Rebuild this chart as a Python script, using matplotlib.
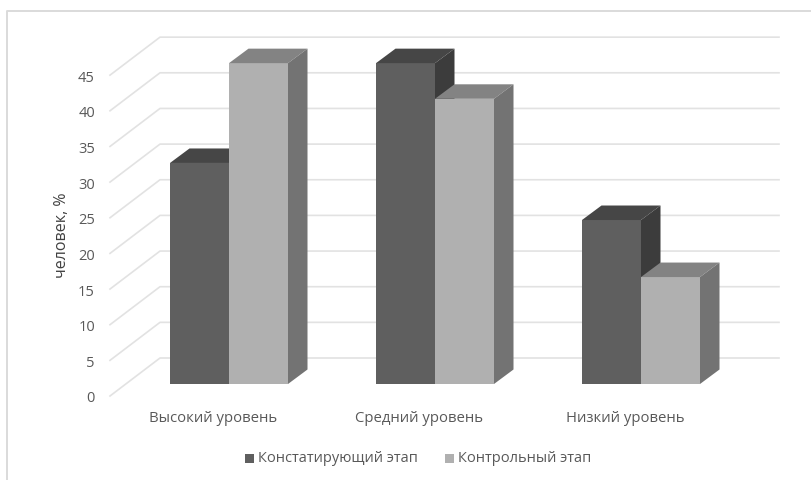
import matplotlib
matplotlib.use("Agg")
import matplotlib.pyplot as plt
from matplotlib.patches import Polygon, Rectangle

categories = ["Высокий уровень", "Средний уровень", "Низкий уровень"]
series_names = ["Констатирующий этап", "Контрольный этап"]
stage_one = [31, 45, 23]
stage_two = [45, 40, 15]
y_ticks = [0, 5, 10, 15, 20, 25, 30, 35, 40, 45]

W, H = 811, 480
# Oblique projection constants, expressed in axis units
PX_X = 206            # pixels per category
PX_Y = 7.13           # pixels per percentage point
BAR_W = 59 / PX_X
DX, DY = 19.5 / PX_X, 14.5 / PX_Y


def px(x):
    """Horizontal pixel position to axis units."""
    return (x - 229) / PX_X


def py(y):
    """Vertical pixel position to axis units."""
    return (384 - y) / PX_Y


plt.rcParams["font.family"] = ["Open Sans", "DejaVu Sans"]
fig = plt.figure(figsize=(W / 100, H / 100), dpi=100, facecolor="white")
ax = fig.add_axes([0, 0, 1, 1])
ax.set_xlim(px(0), px(W))
ax.set_ylim(py(H), py(0))
ax.axis("off")

# Chart frame: left and top edges run off the canvas
ax.plot([px(7), px(7), px(W)], [py(H), py(11), py(11)], color="#dadada", lw=1.4, zorder=1)

# Back-wall gridlines with their side-wall diagonals
for v in y_ticks:
    back_y = v + 26 / PX_Y
    side_y = v - 12 / PX_Y
    ax.plot([px(110), px(160), px(779)], [side_y, back_y, back_y],
            color="#e2e2e2", lw=1.2, zorder=1, solid_joinstyle="round")
    ax.text(px(95), side_y - 3 / PX_Y, str(v), ha="right", va="center",
            fontsize=10.5, color="#595959")


def draw_bar(left, value, front, top, side, z):
    right = left + BAR_W
    ax.add_patch(Rectangle((left, 0), BAR_W, value, fc=front, ec="none", zorder=z))
    ax.add_patch(Polygon([(left, value), (right, value), (right + DX, value + DY),
                          (left + DX, value + DY)], fc=top, ec="none", zorder=z))
    ax.add_patch(Polygon([(right, 0), (right + DX, DY), (right + DX, value + DY),
                          (right, value)], fc=side, ec="none", zorder=z))


for i, (a, b) in enumerate(zip(stage_one, stage_two)):
    draw_bar(i - BAR_W, a, "#5f5f5f", "#464646", "#3c3c3c", 2 + i)
    draw_bar(i, b, "#b0b0b0", "#838383", "#737373", 2.5 + i)
    ax.text(i - 16 / PX_X, py(419), categories[i], ha="center", va="center",
            fontsize=10.7, color="#595959")

ax.text(px(62), py(235), "человек, %", rotation=90,
        ha="center", va="center", fontsize=11.5, color="#404040")

# Legend
legend_y = py(459)
sq_w, sq_h = 9 / PX_X, 9 / PX_Y
for x_pos, name, colour in [(245, series_names[0], "#5f5f5f"), (445, series_names[1], "#b0b0b0")]:
    ax.add_patch(Rectangle((px(x_pos), py(458) - sq_h / 2), sq_w, sq_h, fc=colour, ec="none"))
    ax.text(px(x_pos + 13), legend_y, name, ha="left", va="center",
            fontsize=10.5, color="#595959")

fig.savefig("out.png", dpi=100)
